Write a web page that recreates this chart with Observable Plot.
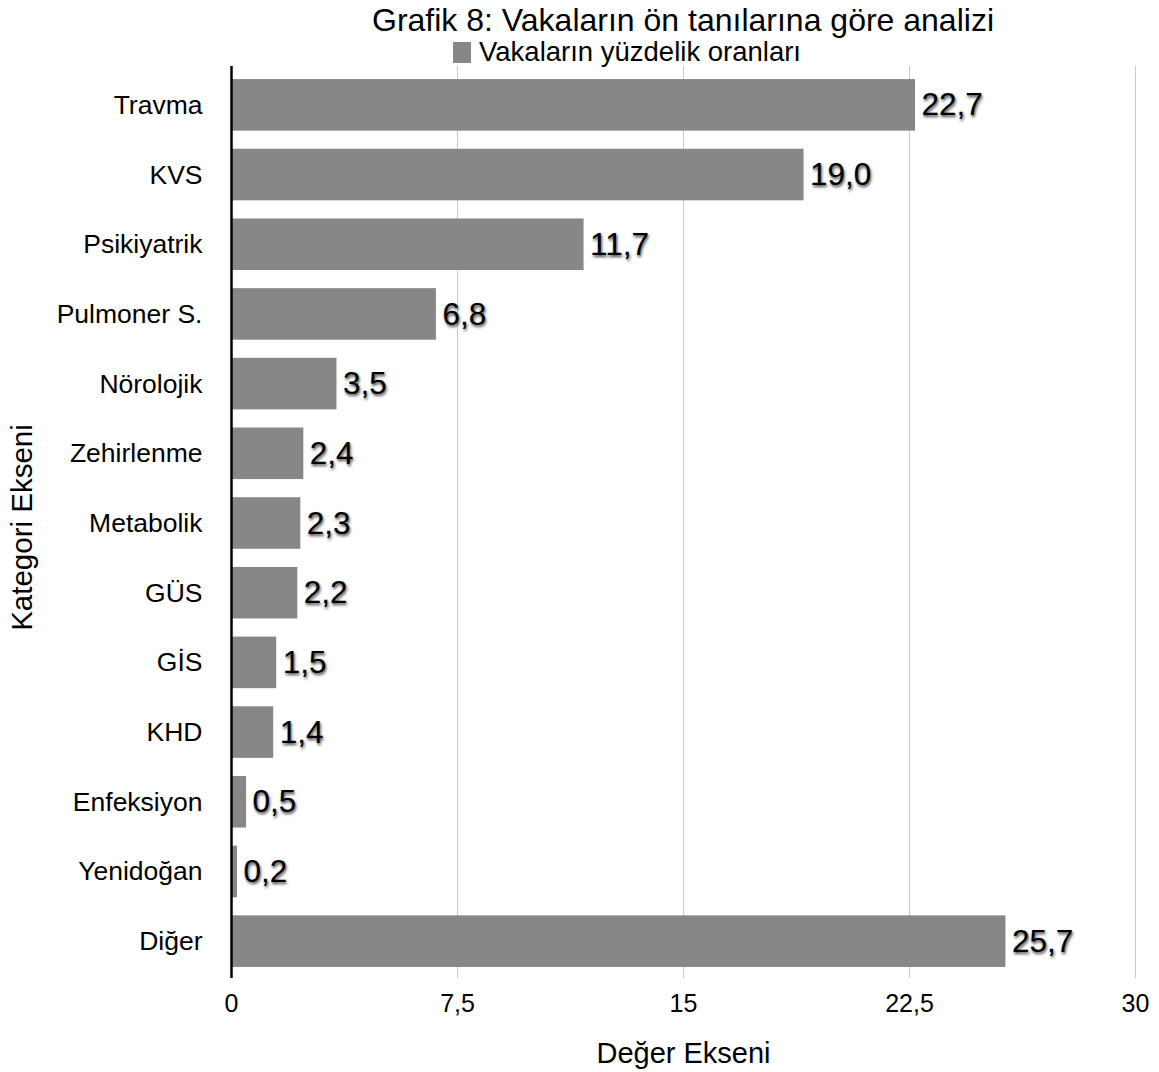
<!DOCTYPE html>
<html>
<head>
<meta charset="utf-8">
<script src="https://cdn.jsdelivr.net/npm/d3@7"></script>
<script src="https://cdn.jsdelivr.net/npm/@observablehq/plot@0.6"></script>
<style>
  body { margin: 0; background: #fff; font-family: "Liberation Sans", Arial, Helvetica, sans-serif; }
  #wrap { position: relative; width: 1159px; }
  #header { position: relative; height: 62px; width: 1159px; }
  #title { position: absolute; left: 231px; width: 904px; top: 2px; text-align: center; font-size: 32px; color: #000; line-height: 36px; white-space: nowrap; }
  #legend { position: absolute; left: 453px; top: 40px; height: 24px; display: flex; align-items: center; font-size: 27.5px; color: #000; white-space: nowrap; }
  #legend .sw { width: 18px; height: 21px; background: #878787; margin-right: 8px; }
  svg text.vlabel { text-shadow: 1px 2px 3px rgba(0,0,0,0.75); }
</style>
</head>
<body>
<div id="wrap">
  <div id="header">
    <div id="title">Grafik 8: Vakaların ön tanılarına göre analizi</div>
    <div id="legend"><div class="sw"></div><span>Vakaların yüzdelik oranları</span></div>
  </div>
  <div id="chart"></div>
</div>
<script>
const categories = ["Travma", "KVS", "Psikiyatrik", "Pulmoner S.", "Nörolojik", "Zehirlenme", "Metabolik", "GÜS", "GİS", "KHD", "Enfeksiyon", "Yenidoğan", "Diğer"];
const values = [22.7, 19.0, 11.7, 6.8, 3.5, 2.4, 2.3, 2.2, 1.5, 1.4, 0.5, 0.2, 25.7];
const xTicks = [0, 7.5, 15, 22.5, 30];
const xLabel = "Değer Ekseni";
const yLabel = "Kategori Ekseni";

const data = categories.map((k, i) => ({k, v: values[i]}));
const fmt = (d) => String(d).replace(".", ",");
const fmt1 = (d) => d.toFixed(1).replace(".", ",");

const plot = Plot.plot({
  width: 1159,
  height: 1010,
  marginTop: 4,
  marginBottom: 94,
  marginLeft: 231,
  marginRight: 24,
  style: {fontFamily: "Liberation Sans, Arial, Helvetica, sans-serif", fontSize: "25px", color: "#000", background: "#fff"},
  x: {domain: [0, 30], ticks: xTicks, tickFormat: fmt, tickSize: 0, tickPadding: 16, label: null},
  y: {domain: categories, range: [8, 914], round: false, paddingInner: 0.26, paddingOuter: 0.13, tickSize: 0, tickPadding: 29, label: null, fontSize: 26.5},
  marks: [
    Plot.ruleX(xTicks.filter(d => d > 0), {stroke: "#c8c8c8", strokeWidth: 1}),
    Plot.barX(data, {x: "v", y: "k", fill: "#878787"}),
    Plot.ruleX([0], {stroke: "#000", strokeWidth: 2.5}),
    Plot.text(data, {x: "v", y: "k", text: d => fmt1(d.v), textAnchor: "start", dx: 6, fontSize: 31.5, fill: "#000"}),
    Plot.text([xLabel], {frameAnchor: "bottom", text: d => d, dy: 75, fontSize: 29, lineAnchor: "middle", textAnchor: "middle"}),
    Plot.text([yLabel], {frameAnchor: "left", text: d => d, rotate: -90, dx: -209, dy: 5, fontSize: 29.5, lineAnchor: "middle", textAnchor: "middle"})
  ]
});
document.getElementById("chart").appendChild(plot);
plot.querySelectorAll('g[aria-label="y-axis tick label"] text, g[aria-label="y-axis"] text').forEach(t => t.setAttribute("font-size", "26.5"));
const textGroups = plot.querySelectorAll('g[aria-label="text"]');
if (textGroups.length) textGroups[0].querySelectorAll("text").forEach(t => t.classList.add("vlabel"));
</script>
</body>
</html>
